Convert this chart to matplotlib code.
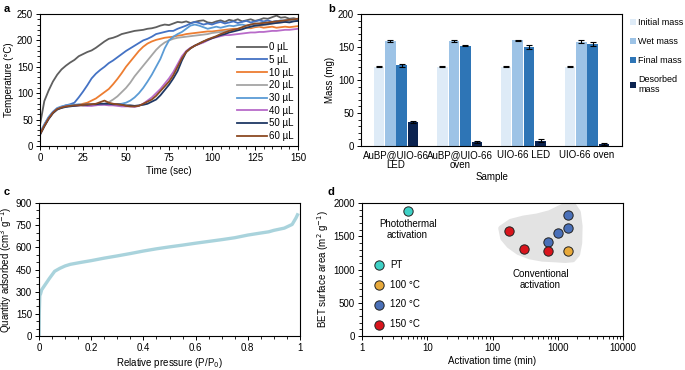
import numpy as np
import matplotlib
matplotlib.use("Agg")
import matplotlib.pyplot as plt
from matplotlib.ticker import MultipleLocator, LogLocator, NullFormatter
from matplotlib.patches import Polygon

plt.rcParams['font.family'] = ['Liberation Sans', 'DejaVu Sans']
plt.rcParams['font.size'] = 7

# ---------------- Panel a data ----------------
time_s = [i * 2.5 for i in range(61)]
temp_0 = [40, 85, 105, 122, 135, 145, 152, 158, 163, 170, 174, 178, 181, 186, 192, 198, 203, 205, 208, 212,
          214, 216, 218, 219, 220, 222, 223, 225, 228, 230, 229, 232, 235, 234, 236, 233, 235, 237, 238, 234,
          233, 236, 238, 235, 239, 237, 240, 236, 238, 240, 237, 239, 242, 241, 244, 247, 243, 244, 241, 242, 240]
temp_5 = [24, 40, 54, 64, 71, 74, 77, 79, 82, 92, 103, 115, 128, 137, 144, 150, 157, 162, 168, 174,
          180, 185, 190, 195, 200, 203, 207, 212, 214, 216, 218, 218, 222, 225, 228, 232, 235, 233, 230, 232,
          230, 233, 235, 232, 234, 236, 233, 235, 237, 234, 236, 238, 236, 238, 235, 237, 236, 238, 236, 238, 237]
temp_10 = [23, 39, 53, 63, 70, 73, 75, 76, 76, 78, 80, 82, 86, 90, 96, 102, 108, 117, 127, 138,
           150, 160, 170, 180, 188, 194, 198, 201, 203, 205, 206, 207, 209, 210, 212, 213, 214, 215, 216, 217,
           217, 218, 219, 220, 221, 222, 222, 223, 224, 223, 225, 226, 224, 225, 226, 224, 225, 226, 225, 226, 227]
temp_20 = [24, 40, 53, 63, 70, 73, 75, 76, 76, 77, 76, 77, 77, 78, 79, 80, 83, 88, 94, 102,
           110, 120, 132, 142, 152, 162, 172, 182, 190, 196, 200, 203, 205, 206, 207, 208, 209, 210, 211, 212,
           214, 215, 216, 217, 219, 220, 221, 222, 224, 225, 227, 228, 229, 230, 232, 233, 234, 235, 236, 237, 238]
temp_30 = [25, 41, 55, 65, 72, 75, 77, 78, 78, 79, 78, 79, 78, 79, 78, 79, 78, 78, 79, 80,
           82, 86, 92, 100, 110, 122, 135, 150, 165, 185, 200, 207, 212, 216, 222, 228, 230, 228, 225, 222,
           224, 226, 224, 226, 228, 227, 229, 230, 228, 230, 231, 232, 234, 233, 235, 236, 238, 237, 239, 240, 241]
temp_40 = [23, 38, 52, 63, 70, 73, 75, 76, 76, 77, 77, 76, 76, 77, 78, 78, 77, 77, 76, 75,
           75, 75, 74, 76, 80, 86, 92, 100, 108, 118, 128, 140, 155, 170, 180, 186, 190, 193, 196, 200,
           204, 206, 208, 210, 210, 211, 212, 213, 214, 215, 215, 216, 216, 217, 218, 218, 219, 220, 220, 221, 222]
temp_50 = [21, 37, 51, 62, 69, 72, 74, 75, 76, 77, 78, 78, 79, 79, 80, 80, 80, 79, 79, 78,
           77, 77, 76, 77, 78, 80, 84, 88, 96, 106, 116, 128, 142, 162, 178, 185, 190, 194, 198, 201,
           204, 207, 210, 212, 215, 217, 219, 221, 224, 226, 228, 229, 230, 231, 232, 233, 234, 235, 234, 236, 237]
temp_60 = [22, 38, 52, 63, 70, 73, 75, 76, 77, 77, 78, 79, 79, 80, 83, 86, 82, 80, 79, 78,
           76, 75, 75, 76, 80, 84, 88, 95, 104, 113, 122, 134, 150, 166, 178, 185, 190, 194, 198, 202,
           205, 208, 212, 215, 218, 220, 222, 225, 228, 230, 232, 232, 233, 234, 235, 236, 237, 238, 239, 240, 241]
volume_labels = ['0 µL', '5 µL', '10 µL', '20 µL', '30 µL', '40 µL', '50 µL', '60 µL']
curve_colors = ['#5f5f5f', '#4472c4', '#ed7d31', '#a5a5a5', '#5b9bd5', '#b86bc9', '#1f3864', '#8c4a22']

# ---------------- Panel b data ----------------
samples = ['AuBP@UIO-66\nLED', 'AuBP@UIO-66\noven', 'UIO-66 LED', 'UIO-66 oven']
initial_mass = [120, 120, 120, 120]
wet_mass = [159, 159, 160, 158]
final_mass = [122, 152, 150, 155]
desorbed_mass = [36, 6, 8, 3]
initial_err = [1, 1, 1, 1]
wet_err = [1, 1, 1, 2]
final_err = [2, 1, 3, 3]
desorbed_err = [1.5, 1, 2.5, 1]
mass_labels = ['Initial mass', 'Wet mass', 'Final mass', 'Desorbed\nmass']
mass_colors = ['#deebf7', '#9dc3e6', '#2e75b6', '#0b2350']

# ---------------- Panel c data ----------------
rel_pressure = [0.0, 0.001, 0.003, 0.006, 0.01, 0.02, 0.04, 0.06, 0.08, 0.1, 0.12, 0.16, 0.2, 0.25, 0.3,
                0.35, 0.4, 0.45, 0.5, 0.55, 0.6, 0.65, 0.7, 0.75, 0.8, 0.85, 0.88, 0.9, 0.94, 0.97, 0.985, 0.993]
qty_adsorbed = [0, 150, 275, 285, 312, 338, 390, 438, 458, 474, 485, 498, 510, 527, 542,
                558, 575, 590, 603, 615, 628, 640, 652, 665, 683, 697, 705, 715, 730, 755, 800, 830]

# ---------------- Panel d data ----------------
pt_time = [5]
pt_bet = [1880]
t100_time = [1440]
t100_bet = [1275]
t120_time = [720, 1000, 1440, 1440]
t120_bet = [1420, 1550, 1620, 1820]
t150_time = [180, 300, 720]
t150_bet = [1580, 1310, 1275]
blob_x = [135, 145, 180, 250, 370, 580, 900, 1300, 1700, 2000, 2150, 2180, 2050, 1750, 1400, 1050,
          750, 480, 300, 190]
blob_y = [1620, 1470, 1360, 1260, 1195, 1160, 1150, 1140, 1150, 1230, 1400, 1650, 1860, 1960, 1975, 1920,
          1850, 1800, 1770, 1720]

W, H = 685, 370
fig = plt.figure(figsize=(W / 100, H / 100), dpi=100)


def add_ax(l, r, t, b):
    return fig.add_axes([l / W, (H - b) / H, (r - l) / W, (b - t) / H])


def style(ax):
    for s in ax.spines.values():
        s.set_linewidth(0.8)
    ax.tick_params(which='major', length=3, width=0.7, pad=2, labelsize=7)
    ax.tick_params(which='minor', length=2, width=0.6)


# ---- a ----
ax = add_ax(40, 298, 14, 146)
series = [temp_0, temp_5, temp_10, temp_20, temp_30, temp_40, temp_50, temp_60]
for y, lab, c in zip(series, volume_labels, curve_colors):
    ax.plot(time_s, y, color=c, lw=1.3, label=lab)
ax.set_xlim(0, 150)
ax.set_ylim(0, 250)
ax.xaxis.set_major_locator(MultipleLocator(25))
ax.xaxis.set_minor_locator(MultipleLocator(5))
ax.yaxis.set_major_locator(MultipleLocator(50))
ax.yaxis.set_minor_locator(MultipleLocator(10))
ax.set_xlabel('Time (sec)', labelpad=2)
ax.set_ylabel('Temperature (°C)', labelpad=2)
style(ax)
ax.legend(loc='lower right', frameon=False, handlelength=3.0, handletextpad=0.2,
          labelspacing=0.28, borderaxespad=0.1, fontsize=7)

# ---- b ----
ax = add_ax(361, 622, 14, 146)
x = np.arange(len(samples))
bw = 0.18
vals = [initial_mass, wet_mass, final_mass, desorbed_mass]
errs = [initial_err, wet_err, final_err, desorbed_err]
for i, (v, e, lab, c) in enumerate(zip(vals, errs, mass_labels, mass_colors)):
    ax.bar(x + (i - 1.5) * bw, v, bw * 0.92, yerr=e, color=c, label=lab,
           error_kw=dict(ecolor='black', elinewidth=0.8, capsize=2.5, capthick=0.8))
ax.set_xlim(-0.55, 3.55)
ax.set_ylim(0, 200)
ax.set_xticks(x)
ax.set_xticklabels(samples, fontsize=5.8, linespacing=1.0)
ax.yaxis.set_major_locator(MultipleLocator(50))
ax.yaxis.set_minor_locator(MultipleLocator(10))
ax.set_xlabel('Sample', labelpad=1)
ax.set_ylabel('Mass (mg)', labelpad=2)
style(ax)
ax.tick_params(axis='x', length=0, pad=3)
ax.legend(loc='upper left', bbox_to_anchor=(1.0, 1.03), frameon=False, handlelength=0.6,
          handleheight=0.6, handletextpad=0.3, labelspacing=1.1, fontsize=6.5)

# ---- c ----
ax = add_ax(39, 300, 203, 336)
ax.plot(rel_pressure, qty_adsorbed, color='#a9d3dc', lw=2.4, solid_capstyle='butt')
ax.set_xlim(0, 1)
ax.set_ylim(0, 900)
ax.set_xticks([0, 0.2, 0.4, 0.6, 0.8, 1.0])
ax.set_xticklabels(['0', '0.2', '0.4', '0.6', '0.8', '1'])
ax.xaxis.set_minor_locator(MultipleLocator(0.05))
ax.yaxis.set_major_locator(MultipleLocator(150))
ax.yaxis.set_minor_locator(MultipleLocator(50))
ax.set_xlabel('Relative pressure (P/P$_0$)', labelpad=2)
ax.set_ylabel('Quantity adsorbed (cm$^3$ g$^{-1}$)', labelpad=1)
style(ax)

# ---- d ----
ax = add_ax(362, 623, 203, 336)
ax.add_patch(Polygon(list(zip(blob_x, blob_y)), closed=True, facecolor='#e3e3e3',
                     edgecolor='#e3e3e3', lw=4, joinstyle='round', zorder=0))
ms = 45
ax.scatter(pt_time, pt_bet, s=ms, color='#3ed1c6', edgecolor='#222222', lw=0.7, label='PT', zorder=3)
ax.scatter(t100_time, t100_bet, s=ms, color='#e8a93a', edgecolor='#222222', lw=0.7, label='100 °C', zorder=3)
ax.scatter(t120_time, t120_bet, s=ms, color='#4a70b8', edgecolor='#222222', lw=0.7, label='120 °C', zorder=3)
ax.scatter(t150_time, t150_bet, s=ms, color='#d9141c', edgecolor='#222222', lw=0.7, label='150 °C', zorder=3)
ax.set_xscale('log')
ax.set_xlim(1, 10000)
ax.set_ylim(0, 2000)
ax.set_xticks([1, 10, 100, 1000, 10000])
ax.set_xticklabels(['1', '10', '100', '1000', '10000'])
ax.xaxis.set_minor_locator(LogLocator(base=10, subs=np.arange(2, 10)))
ax.xaxis.set_minor_formatter(NullFormatter())
ax.yaxis.set_major_locator(MultipleLocator(500))
ax.yaxis.set_minor_locator(MultipleLocator(100))
ax.set_xlabel('Activation time (min)', labelpad=2)
ax.set_ylabel('BET surface area (m$^2$ g$^{-1}$)', labelpad=2)
ax.text(5, 1600, 'Photothermal\nactivation', ha='center', va='center', fontsize=7, linespacing=1.1)
ax.text(540, 850, 'Conventional\nactivation', ha='center', va='center', fontsize=7, linespacing=1.1)
style(ax)
ax.legend(loc='lower left', bbox_to_anchor=(0.0, 0.0), frameon=False, handletextpad=0.2,
          labelspacing=1.0, borderaxespad=0.3, fontsize=7, scatterpoints=1)

# panel letters
for lab, px, py in [('a', 4, 9), ('b', 328, 9), ('c', 4, 192), ('d', 328, 192)]:
    fig.text(px / W, 1 - py / H, lab, fontsize=8, fontweight='bold', va='center', ha='left')

fig.savefig('out.png', dpi=100)
